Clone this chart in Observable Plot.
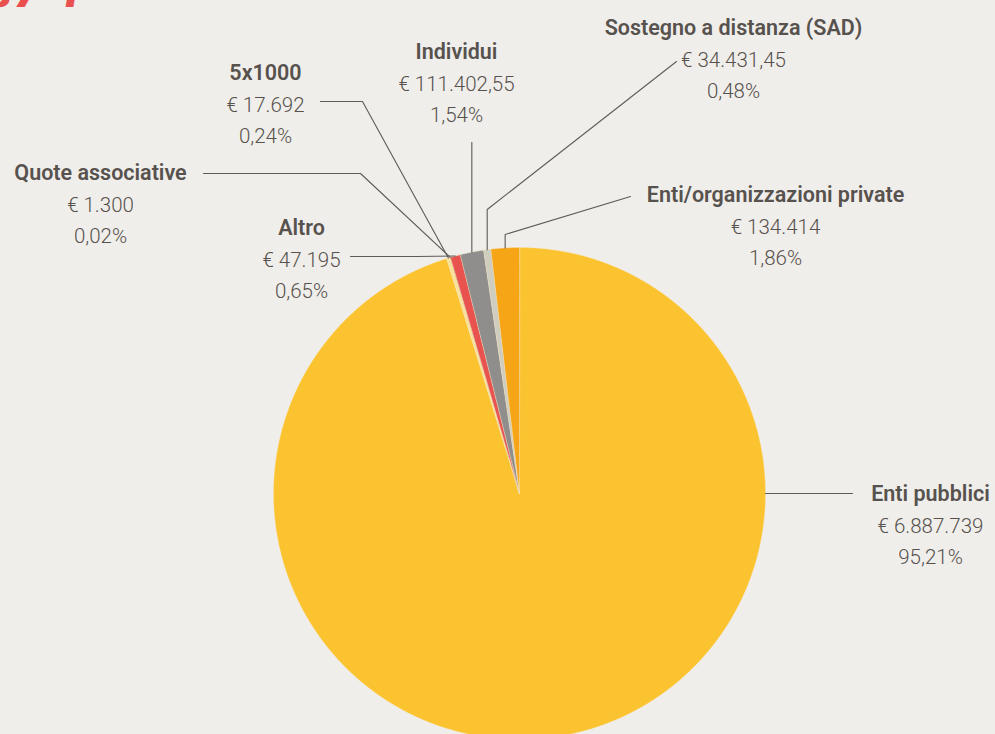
<!DOCTYPE html>
<html><head><meta charset="utf-8">
<script src="https://cdn.jsdelivr.net/npm/d3@7"></script>
<script src="https://cdn.jsdelivr.net/npm/@observablehq/plot@0.6"></script>
<style>
html,body{margin:0;padding:0;background:#f0eeea;overflow:hidden;width:995px;height:734px;}
#wrap{position:relative;width:995px;height:734px;overflow:hidden;}
#head{position:absolute;left:-12px;top:-38px;font:italic 900 48px Roboto, sans-serif;color:#e9504e;white-space:pre;letter-spacing:2px;}
#chart{position:absolute;left:0;top:0;}
</style></head><body>
<div id="wrap"><div id="head">s7 1</div><div id="chart"></div></div>
<script>
// ---- data ----
const categories = ["Enti pubblici","5x1000","Quote associative","Altro","Individui","Sostegno a distanza (SAD)","Enti/organizzazioni private"];
const amounts = [6887739, 17692, 1300, 47195, 111402.55, 34431.45, 134414];
const amountLabels = ["€ 6.887.739","€ 17.692","€ 1.300","€ 47.195","€ 111.402,55","€ 34.431,45","€ 134.414"];
const percentLabels = ["95,21%","0,24%","0,02%","0,65%","1,54%","0,48%","1,86%"];

// ---- styles / layout ----
const colors = ["#fcc330","#fbe29a","#1e1b18","#e8524f","#8f8e8c","#cfcdc0","#f5a516"];
const cx = 519, cy = 493, R = 246;
const labelPos = {
  "Enti pubblici": [930, 494],
  "5x1000": [265, 73],
  "Quote associative": [100, 173],
  "Altro": [301, 228],
  "Individui": [456, 52],
  "Sostegno a distanza (SAD)": [733, 28],
  "Enti/organizzazioni private": [775, 195]
};
const lineGap = 31.5;
const leaders = {
  "Enti pubblici": {pts: [[765,493],[852,493]], end: false},
  "5x1000": {pts: [[320,101],[362,101]], end: true},
  "Quote associative": {pts: [[203,173],[360,173]], end: true},
  "Altro": {pts: [[350,256],[416,256]], end: true},
  "Individui": {pts: [], elbowY: 142, end: true},
  "Sostegno a distanza (SAD)": {pts: [[676,61]], elbowY: 209, end: true},
  "Enti/organizzazioni private": {pts: [[630,196]], elbowY: 234, end: true}
};

const rows = categories.map((c, i) => ({category: c, amount: amounts[i], amountLabel: amountLabels[i], pct: percentLabels[i]}));
const arcs = d3.pie().sort(null).value(d => d.amount)(rows);
const pt = (a, r) => [cx + r * Math.sin(a), cy - r * Math.cos(a)];

// slice polygons
const slicePts = [];
arcs.forEach(a => {
  const c = a.data.category;
  slicePts.push({category: c, x: cx, y: cy});
  const n = Math.max(2, Math.ceil((a.endAngle - a.startAngle) / 0.004));
  for (let k = 0; k <= n; k++) {
    const t = a.startAngle + (a.endAngle - a.startAngle) * k / n;
    const [x, y] = pt(t, R);
    slicePts.push({category: c, x, y});
  }
});

// leader lines
const leaderPts = [];
arcs.forEach(a => {
  const c = a.data.category, L = leaders[c];
  const pts = L.pts.map(p => p.slice());
  if (L.end) {
    const mid = (a.startAngle + a.endAngle) / 2;
    const e = pt(mid, R);
    if (L.elbowY !== undefined) pts.push([e[0], L.elbowY]);
    pts.push(e);
  }
  pts.forEach(p => leaderPts.push({category: c, x: p[0], y: p[1]}));
});

const nameText = rows.map(d => ({text: d.category, x: labelPos[d.category][0], y: labelPos[d.category][1]}));
const valueText = rows.flatMap(d => [
  {text: d.amountLabel, x: labelPos[d.category][0], y: labelPos[d.category][1] + lineGap},
  {text: d.pct, x: labelPos[d.category][0], y: labelPos[d.category][1] + 2 * lineGap}
]);

const chart = Plot.plot({
  width: 995, height: 734,
  margin: 0,
  style: {background: "transparent", fontFamily: "Roboto, sans-serif", overflow: "visible"},
  x: {domain: [0, 995], range: [0, 995], axis: null},
  y: {domain: [0, 734], range: [0, 734], axis: null},
  color: {domain: categories, range: colors},
  marks: [
    Plot.line(slicePts, {x: "x", y: "y", z: "category", fill: "category", stroke: "#f6e7c0", strokeWidth: 0.4, curve: "linear-closed"}),
    Plot.line(leaderPts, {x: "x", y: "y", z: "category", stroke: "#5f5a56", strokeWidth: 1.1}),
    Plot.text(nameText, {x: "x", y: "y", text: "text", fontSize: 21.5, fontWeight: 600, fill: "#57524e", textAnchor: "middle", lineAnchor: "middle"}),
    Plot.text(valueText, {x: "x", y: "y", text: "text", fontSize: 20.5, fontWeight: 300, fill: "#57524e", textAnchor: "middle", lineAnchor: "middle"})
  ]
});
document.getElementById("chart").appendChild(chart);
</script>
</body></html>
